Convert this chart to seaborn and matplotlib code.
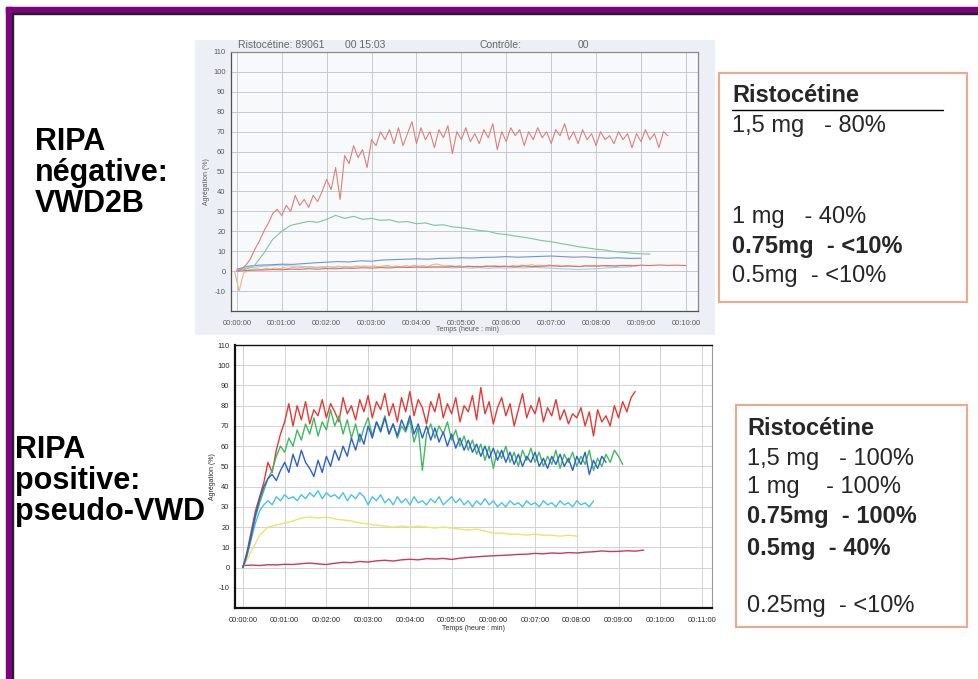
#!/usr/bin/env python
# -*- coding: utf-8 -*-
"""Slide: ristocetin induced aggregation (RIPA), VWD2B vs pseudo-VWD."""
import numpy as np
import pandas as pd
import matplotlib
matplotlib.use('Agg')
import matplotlib.pyplot as plt
from matplotlib.patches import Rectangle
from matplotlib.lines import Line2D
import seaborn as sns

W_PX, H_PX = 979, 679

# ---- data read off the scanned tracings (time in min, aggregation in %) ----
# top tracing, RIPA negative (VWD2B)
TOP_RED_T0, TOP_RED_DT = 0.0, 0.1
TOP_RED = [0, 1, 3, 6, 11, 15, 20, 24, 29, 31,
           28, 33, 30, 38, 33, 36, 32, 38, 35, 40,
           46, 41, 52, 36, 58, 54, 63, 57, 61, 52,
           66, 63, 70, 66, 71, 64, 72, 63, 69, 75,
           64, 72, 66, 70, 62, 71, 67, 73, 59, 70,
           66, 72, 65, 69, 64, 71, 67, 74, 61, 70,
           65, 72, 68, 71, 63, 70, 66, 72, 67, 70,
           64, 71, 68, 74, 66, 70, 64, 71, 66, 69,
           63, 70, 66, 68, 64, 70, 66, 69, 62, 69,
           65, 71, 66, 69, 62, 70, 68]
TOP_GREEN_T0, TOP_GREEN_DT = 0.0, 0.2
TOP_GREEN = [0, 1, 3, 9, 16, 20, 23, 24, 25, 24.5,
             26, 28, 26.5, 27.5, 26, 26.5, 25.5, 25.8, 24.6, 24.9,
             23.8, 24.2, 23, 23.3, 22.2, 21.8, 21.2, 20.4, 20, 18.8,
             18.4, 17.6, 17, 16.2, 15.3, 14.8, 13.9, 13.2, 12.3, 11.7,
             11, 10.6, 9.8, 9.5, 9, 8.7, 8.6]
TOP_BLUE_T0, TOP_BLUE_DT = 0.0, 0.25
TOP_BLUE = [1, 2.5, 3, 3.2, 3.5, 3.4, 3.8, 4.2, 4.5, 4.8,
            4.6, 5.2, 5.0, 5.6, 5.8, 6.0, 6.2, 6.0, 6.4, 6.5,
            6.7, 6.6, 6.9, 7.0, 7.3, 7.0, 7.2, 7.4, 7.6, 7.3,
            7.0, 7.2, 6.8, 6.5, 6.7, 6.4, 6.5]
TOP_ORANGE_T0, TOP_ORANGE_DT = -0.05, 0.1
TOP_ORANGE = [0, -10, -1, 0.5, 1, 1.2, 0.8, 1.5, 1, 1.6,
              1.2, 1.8, 1.3, 2.0, 1.5, 1.9, 1.4, 2.2, 1.6, 2.0,
              1.7, 2.3, 1.8, 2.5, 2.0, 2.2, 1.9, 2.6, 2.1, 2.4,
              2.0, 2.7, 2.2, 2.5, 2.9, 2.3, 2.6, 2.1, 2.8, 2.4,
              3.0, 2.5, 2.8, 2.3, 3.2, 3.6, 3.0, 2.6, 2.9, 2.4,
              2.7, 2.2, 2.6, 2.0, 2.5, 2.1, 2.7, 2.3, 2.8, 2.4,
              2.6, 2.2, 2.9, 2.5, 3.1, 2.6, 3.3, 2.8, 3.0, 2.5,
              3.2, 2.7, 3.0, 2.4, 2.8, 2.3, 2.6, 2.2, 2.7, 2.4,
              2.9, 2.5, 2.8, 2.3, 2.7, 2.4, 2.9, 2.6, 3.0, 2.5, 2.8]
TOP_CYAN_T0, TOP_CYAN_DT = 0.0, 0.2
TOP_CYAN = [0.5, 1.5, 2, 2.5, 2.8, 3, 2.6, 2.4, 2.2, 2.0,
            2.3, 2.0, 2.4, 2.2, 2.6, 2.4, 2.0, 2.3, 1.9, 2.2,
            1.8, 2.1, 1.7, 2.0, 1.6, 1.9, 1.5, 1.8, 1.4, 1.7,
            1.5, 1.8, 1.6, 1.9, 1.7, 1.5, 1.2, 1.0, 0.8, 1.0,
            1.2, 1.5, 1.8, 2.0, 2.2]
TOP_LOWRED_T0, TOP_LOWRED_DT = 0.0, 0.2
TOP_LOWRED = [0.0, 0.3, 0.5, 0.6, 0.8, 0.7, 1.0, 0.9, 1.2, 1.0,
              1.3, 1.2, 1.5, 1.4, 1.7, 1.5, 1.8, 1.6, 2.0, 1.8,
              2.1, 1.9, 2.2, 2.0, 2.3, 2.1, 2.4, 2.2, 2.5, 2.3,
              2.4, 2.2, 2.6, 2.3, 2.5, 2.7, 2.4, 2.6, 2.3, 2.7,
              2.5, 2.8, 2.6, 2.9, 2.7, 3.0, 2.8, 3.1, 2.9, 3.0, 2.8]

# bottom tracing, RIPA positive (pseudo-VWD)
BOT_RED_T0, BOT_RED_DT = 0.0, 0.1
BOT_RED = [0, 8, 18, 28, 35, 42, 52, 47, 58, 66,
           72, 81, 70, 80, 73, 82, 71, 78, 75, 83,
           74, 81, 77, 72, 84, 76, 80, 73, 83, 77,
           85, 74, 82, 78, 86, 75, 81, 72, 84, 77,
           87, 75, 83, 79, 71, 82, 77, 86, 74, 81,
           76, 84, 72, 80, 77, 85, 73, 89, 76, 82,
           71, 79, 84, 75, 81, 70, 78, 86, 74, 80,
           76, 84, 72, 79, 75, 83, 73, 78, 71, 76,
           74, 79, 70, 77, 65, 78, 72, 75, 70, 80,
           74, 82, 77, 84, 87]
BOT_GREEN_T0, BOT_GREEN_DT = 0.0, 0.1
BOT_GREEN = [0, 6, 15, 25, 32, 38, 44, 48, 55, 60,
             57, 64, 60, 68, 63, 71, 66, 74, 65, 72,
             68, 78, 70, 75, 66, 73, 64, 71, 62, 69,
             74, 65, 72, 68, 75, 66, 71, 64, 70, 67,
             73, 62, 69, 48, 66, 71, 64, 70, 66, 72,
             63, 68, 60, 65, 58, 63, 56, 61, 53, 60,
             49, 58, 54, 60, 52, 57, 50, 58, 53, 59,
             52, 57, 50, 55, 51, 58, 49, 56, 52, 57,
             50, 55, 51, 58, 48, 54, 50, 56, 52, 58,
             55, 51]
BOT_BLUE_T0, BOT_BLUE_DT = 0.0, 0.1
BOT_BLUE = [0, 7, 16, 26, 34, 40, 44, 46, 43, 48,
            52, 47, 56, 50, 58, 52, 49, 45, 53, 47,
            55, 50, 58, 53, 60, 55, 64, 58, 66, 61,
            70, 64, 72, 67, 74, 66, 71, 65, 73, 68,
            75, 66, 71, 64, 70, 63, 69, 62, 67, 60,
            66, 59, 64, 58, 63, 57, 61, 55, 60, 54,
            59, 53, 58, 52, 57, 51, 56, 50, 55, 52,
            57, 50, 54, 49, 55, 51, 56, 50, 54, 48,
            55, 51, 57, 46, 53, 49, 55, 52]
BOT_CYAN_T0, BOT_CYAN_DT = 0.0, 0.1
BOT_CYAN = [0, 6, 14, 22, 28, 31, 33, 31, 35, 33,
            36, 34, 35, 33, 36, 34, 37, 35, 38, 34,
            37, 35, 36, 34, 37, 33, 36, 34, 37, 35,
            31, 35, 33, 36, 32, 34, 31, 35, 32, 34,
            31, 35, 32, 33, 31, 34, 32, 35, 31, 33,
            35, 32, 34, 31, 33, 30, 33, 31, 34, 31,
            33, 30, 32, 30, 33, 31, 32, 30, 33, 31,
            32, 30, 33, 31, 32, 30, 33, 31, 32, 30,
            33, 31, 32, 30, 33]
BOT_YELLOW_T0, BOT_YELLOW_DT = 0.0, 0.2
BOT_YELLOW = [0, 8, 16, 20, 21, 22, 23, 24.5, 25, 24.5,
              25, 24, 23.5, 23, 22, 21.5, 21, 20.5, 20, 20.5,
              20, 20.5, 20, 19.5, 20, 19.5, 19, 18.5, 19, 18,
              17, 17, 16.5, 16.5, 16, 16.5, 16, 16, 15.5, 16, 15.5]
BOT_CRIMSON_T0, BOT_CRIMSON_DT = 0.0, 0.2
BOT_CRIMSON = [1, 1.2, 1.0, 1.4, 1.3, 1.6, 1.5, 1.9, 2.2, 1.8,
               1.5, 2.1, 2.6, 2.4, 3.0, 2.7, 3.3, 3.6, 3.2, 3.8,
               4.1, 3.8, 4.4, 4.2, 4.5, 4.0, 4.6, 5.0, 5.3, 5.6,
               5.8, 6.0, 6.2, 6.5, 6.6, 7.0, 6.8, 7.2, 7.0, 7.4,
               7.2, 7.6, 7.8, 8.2, 7.9, 8.0, 8.3, 8.1, 8.6]

Y_TICKS = list(range(-10, 111, 10))
TOP_X_TICKS = list(range(0, 11))
BOT_X_TICKS = list(range(0, 12))

LEFT_TOP_LINES = ['RIPA', 'négative:', 'VWD2B']
LEFT_BOT_LINES = ['RIPA', 'positive:', 'pseudo-VWD']
BOX_TOP_LINES = [('1,5 mg   - 80%', 'normal'), ('1 mg   - 40%', 'normal'),
                 ('0.75mg  - <10%', 'bold'), ('0.5mg  - <10%', 'normal')]
BOX_BOT_LINES = [('1,5 mg   - 100%', 'normal'), ('1 mg    - 100%', 'normal'),
                 ('0.75mg  - 100%', 'bold'), ('0.5mg  - 40%', 'bold'),
                 ('0.25mg  - <10%', 'normal')]
SCAN_HEADER = [(238, 'Ristocétine: 89061'), (345, '00 15:03'),
               (480, 'Contrôle:'), (578, '00')]


def fx(x):
    return x / W_PX


def fy(y):
    return 1 - y / H_PX


def build_frame(series):
    """Long table: one row per sample, time computed from start/step."""
    parts = []
    for name, t0, dt, vals in series:
        vals = np.asarray(vals, dtype=float)
        parts.append(pd.DataFrame({'time': t0 + dt * np.arange(len(vals)),
                                   'aggregation': vals, 'series': name}))
    return pd.concat(parts, ignore_index=True)


def style_axes(ax, xticks, xlim, tick_color, grid_color):
    ax.set_xlim(xlim)
    ax.set_ylim(-20, 110)
    ax.set_xticks(xticks)
    ax.set_xticklabels(['00:{:02d}:00'.format(m) for m in xticks])
    ax.set_yticks(Y_TICKS)
    ax.set_yticklabels([str(v) for v in Y_TICKS])
    ax.tick_params(axis='both', labelsize=5.4, colors=tick_color,
                   length=2, width=0.5)
    ax.tick_params(axis='x', pad=4.5)
    ax.tick_params(axis='y', pad=2)
    ax.grid(True, color=grid_color, lw=0.7)
    ax.set_axisbelow(True)


def main():
    sns.set_theme(style='whitegrid')
    plt.rcParams['font.family'] = ['Liberation Sans', 'DejaVu Sans']

    fig = plt.figure(figsize=(W_PX / 100, H_PX / 100), dpi=100)
    fig.patch.set_facecolor('white')

    # purple slide frame
    fig.patches.append(Rectangle((fx(6), fy(13)), fx(973), 6 / H_PX,
                                 transform=fig.transFigure, color='#800080'))
    fig.patches.append(Rectangle((fx(12), fy(14.3)), fx(967), 1.3 / H_PX,
                                 transform=fig.transFigure, color='#222222'))
    fig.patches.append(Rectangle((fx(6), 0), fx(6), fy(7),
                                 transform=fig.transFigure, color='#800080'))
    fig.patches.append(Rectangle((fx(12), 0), fx(1.3), fy(13),
                                 transform=fig.transFigure, color='#222222'))

    # scanned background of the top tracing (header text cut at the top)
    bg_top, bg_bot = 40, 335
    bg = fig.add_axes([fx(195), fy(bg_bot), fx(520), (bg_bot - bg_top) / H_PX])
    bg.set_facecolor('#eceff5')
    bg.set_xticks([])
    bg.set_yticks([])
    bg.grid(False)
    for sp in bg.spines.values():
        sp.set_visible(False)
    for xpos, txt in SCAN_HEADER:
        bg.text((xpos - 195) / 520, (bg_bot - 48) / (bg_bot - bg_top), txt,
                transform=bg.transAxes, fontsize=7.5, color='#666666',
                va='baseline', clip_on=True)

    # ---- top tracing ----
    ax1 = fig.add_axes([fx(231), fy(311), fx(467), (311 - 52) / H_PX])
    ax1.set_facecolor('#f8f9fb')
    top = build_frame([
        ('1,5 mg', TOP_RED_T0, TOP_RED_DT, TOP_RED),
        ('1 mg', TOP_GREEN_T0, TOP_GREEN_DT, TOP_GREEN),
        ('0.75 mg', TOP_BLUE_T0, TOP_BLUE_DT, TOP_BLUE),
        ('0.5 mg', TOP_ORANGE_T0, TOP_ORANGE_DT, TOP_ORANGE),
        ('0.5 mg b', TOP_CYAN_T0, TOP_CYAN_DT, TOP_CYAN),
        ('0.25 mg', TOP_LOWRED_T0, TOP_LOWRED_DT, TOP_LOWRED)])
    top_pal = {'1,5 mg': '#de7f7a', '1 mg': '#7cc59c', '0.75 mg': '#7394d2',
               '0.5 mg': '#e9b97e', '0.5 mg b': '#9ed3e6',
               '0.25 mg': '#e26c6c'}
    sns.lineplot(data=top, x='time', y='aggregation', hue='series',
                 hue_order=['0.5 mg b', '0.5 mg', '0.25 mg', '0.75 mg',
                            '1 mg', '1,5 mg'],
                 palette=top_pal, estimator=None, sort=False, legend=False,
                 linewidth=0.8, ax=ax1)
    style_axes(ax1, TOP_X_TICKS, (-0.13, 10.27), '#5a5a5a', '#c6c9d2')
    for side, sp in ax1.spines.items():
        sp.set_visible(True)
        sp.set_color('#505050' if side in ('left', 'bottom') else '#8a8a8a')
        sp.set_linewidth(0.9)
    ax1.set_xlabel('Temps (heure : min)', fontsize=5, color='#5a5a5a')
    ax1.set_ylabel('Agrégation (%)', fontsize=5, color='#5a5a5a')
    ax1.xaxis.set_label_coords(0.507, -0.058)
    ax1.yaxis.set_label_coords(-0.045, 0.5)

    # ---- bottom tracing ----
    ax2 = fig.add_axes([fx(235), fy(608), fx(477), (608 - 345) / H_PX])
    ax2.set_facecolor('white')
    bot = build_frame([
        ('1,5 mg', BOT_RED_T0, BOT_RED_DT, BOT_RED),
        ('1 mg', BOT_GREEN_T0, BOT_GREEN_DT, BOT_GREEN),
        ('0.75 mg', BOT_BLUE_T0, BOT_BLUE_DT, BOT_BLUE),
        ('0.5 mg', BOT_CYAN_T0, BOT_CYAN_DT, BOT_CYAN),
        ('0.35 mg', BOT_YELLOW_T0, BOT_YELLOW_DT, BOT_YELLOW),
        ('0.25 mg', BOT_CRIMSON_T0, BOT_CRIMSON_DT, BOT_CRIMSON)])
    bot_pal = {'1,5 mg': '#e53935', '1 mg': '#3dbb5e', '0.75 mg': '#2d5fd0',
               '0.5 mg': '#45c3e8', '0.35 mg': '#efe36a',
               '0.25 mg': '#c83a60'}
    sns.lineplot(data=bot, x='time', y='aggregation', hue='series',
                 hue_order=['0.25 mg', '0.35 mg', '0.5 mg', '1,5 mg',
                            '1 mg', '0.75 mg'],
                 palette=bot_pal, estimator=None, sort=False, legend=False,
                 linewidth=1.0, ax=ax2)
    style_axes(ax2, BOT_X_TICKS, (-0.19, 11.24), '#2a2a2a', '#d2d2d2')
    for side, sp in ax2.spines.items():
        sp.set_visible(True)
        sp.set_color('#111111' if side != 'right' else '#9a9a9a')
        sp.set_linewidth({'left': 1.6, 'bottom': 1.6,
                          'top': 1.0, 'right': 0.8}[side])
    ax2.set_xlabel('Temps (heure : min)', fontsize=5, color='#2a2a2a')
    ax2.set_ylabel('Agrégation (%)', fontsize=5, color='#2a2a2a')
    ax2.xaxis.set_label_coords(0.5, -0.065)
    ax2.yaxis.set_label_coords(-0.040, 0.5)

    # ---- left captions ----
    for txt, base in zip(LEFT_TOP_LINES, [150, 181, 212]):
        fig.text(fx(35), fy(base), txt, fontsize=22, weight='bold',
                 color='black', va='baseline')
    for txt, base in zip(LEFT_BOT_LINES, [458, 489, 520]):
        fig.text(fx(15), fy(base), txt, fontsize=22, weight='bold',
                 color='black', va='baseline')

    # ---- right boxes ----
    box_col = '#eea88c'
    fig.patches.append(Rectangle((fx(719), fy(302)), fx(248), (302 - 73) / H_PX,
                                 transform=fig.transFigure, fill=False,
                                 edgecolor=box_col, lw=1.5))
    fig.text(fx(732), fy(102), 'Ristocétine', fontsize=17, weight='bold',
             va='baseline')
    fig.lines.append(Line2D([fx(732), fx(943)], [fy(110), fy(110)],
                            transform=fig.transFigure, color='black', lw=1))
    for (txt, wt), base in zip(BOX_TOP_LINES, [132, 223, 253, 282]):
        fig.text(fx(732), fy(base), txt, fontsize=17, weight=wt,
                 va='baseline')

    fig.patches.append(Rectangle((fx(736), fy(627)), fx(231), (627 - 405) / H_PX,
                                 transform=fig.transFigure, fill=False,
                                 edgecolor=box_col, lw=1.5))
    fig.text(fx(747), fy(435), 'Ristocétine', fontsize=17, weight='bold',
             va='baseline')
    for (txt, wt), base in zip(BOX_BOT_LINES, [465, 493, 523, 555, 612]):
        fig.text(fx(747), fy(base), txt, fontsize=17, weight=wt,
                 va='baseline')

    fig.savefig('out.png', dpi=100)


if __name__ == '__main__':
    main()
